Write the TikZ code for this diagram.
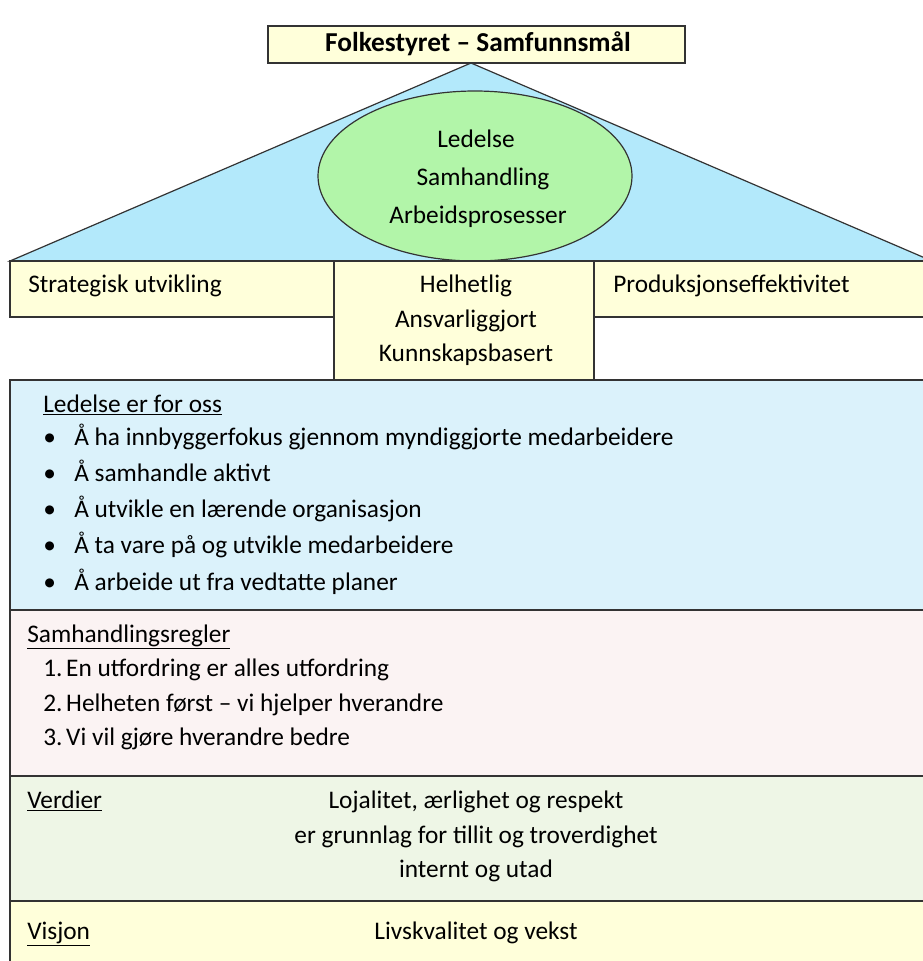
\documentclass[tikz,border=0pt]{standalone}
\usepackage{fontspec}
\setmainfont{Carlito}
\definecolor{roofblue}{HTML}{B3E9FB}
\definecolor{coregreen}{HTML}{B2F5A9}
\definecolor{pillaryellow}{HTML}{FFFFDA}
\definecolor{leadblue}{HTML}{DBF2FB}
\definecolor{rulepink}{HTML}{FBF3F3}
\definecolor{valuegreen}{HTML}{EEF6E6}
\tikzset{
  frame/.style={draw=black!80,line width=0.9pt},
  txt/.style={inner sep=0pt,anchor=base west,font=\fontsize{19}{22}\selectfont},
  ctxt/.style={inner sep=0pt,anchor=base,font=\fontsize{19}{22}\selectfont},
}
\begin{document}
\begin{tikzpicture}[x=0.75pt,y=-0.75pt]
\useasboundingbox (0,0) rectangle (923,961);
\clip (0,0) rectangle (923,961);
%roof
\draw[frame,fill=pillaryellow] (268,26) rectangle (685,63);
\node[ctxt,font=\fontsize{20.5}{24}\selectfont\bfseries] (top) at (478,51) {Folkestyret – Samfunnsmål};
\draw[frame,fill=roofblue] (471,63) -- (10,261) -- (932,261) -- cycle;
\draw[frame,fill=coregreen] (475,176) ellipse (157 and 85);
\node[ctxt] (core1) at (476,147) {Ledelse};
\node[ctxt] (core2) at (483,185) {Samhandling};
\node[ctxt] (core3) at (478,223) {Arbeidsprosesser};
%pillars
\draw[frame,fill=pillaryellow] (10,261) rectangle (334,317);
\draw[frame,fill=pillaryellow] (594,261) rectangle (932,317);
\draw[frame,fill=pillaryellow] (334,261) rectangle (594,380);
\node[txt] (strat) at (28,292) {Strategisk utvikling};
\node[txt] (prod) at (613,292) {Produksjonseffektivitet};
\node[ctxt] (mid1) at (466,292) {Helhetlig};
\node[ctxt] (mid2) at (466,327) {Ansvarliggjort};
\node[ctxt] (mid3) at (466,361) {Kunnskapsbasert};
%Ledelse
\draw[frame,fill=leadblue] (10,380) rectangle (932,610);
\node[txt] (lead) at (43,412) {\underline{Ledelse er for oss}};
\foreach \i/\t in {0/Å ha innbyggerfokus gjennom myndiggjorte medarbeidere,
                   1/Å samhandle aktivt,
                   2/Å utvikle en lærende organisasjon,
                   3/Å ta vare på og utvikle medarbeidere,
                   4/Å arbeide ut fra vedtatte planer}{
  \node[txt] (dot\i) at (43,445+36.3*\i) {•};
  \node[txt] (item\i) at (74,445+36.3*\i) {\t};
}
%Samhandling
\draw[frame,fill=rulepink] (10,610) rectangle (932,776);
\node[txt] (rules) at (27,642) {\underline{Samhandlingsregler}};
\node[txt] (rule1) at (43,676) {1.\kern-1.5pt\ En utfordring er alles utfordring};
\node[txt] (rule2) at (43,711) {2.\kern-1.5pt\ Helheten først – vi hjelper hverandre};
\node[txt] (rule3) at (43,745) {3.\kern-1.5pt\ Vi vil gjøre hverandre bedre};
%Verdier
\draw[frame,fill=valuegreen] (10,776) rectangle (932,901);
\node[txt] (values) at (27,808) {\underline{Verdier}};
\node[ctxt] (val1) at (476,808) {Lojalitet, ærlighet og respekt};
\node[ctxt] (val2) at (476,843) {er grunnlag for tillit og troverdighet};
\node[ctxt] (val3) at (476,877) {internt og utad};
%Visjon
\draw[frame,fill=pillaryellow] (10,901) rectangle (932,975);
\node[txt] (vision) at (27,939) {\underline{Visjon}};
\node[ctxt] (vis1) at (476,939) {Livskvalitet og vekst};
\end{tikzpicture}
\end{document}
